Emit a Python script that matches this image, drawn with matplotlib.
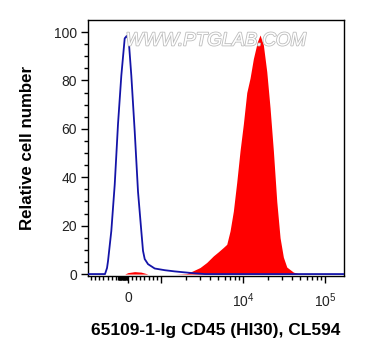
import numpy as np
import matplotlib
matplotlib.use('Agg')
import matplotlib.pyplot as plt
import matplotlib.patheffects as pe
from matplotlib.ticker import FixedLocator, FixedFormatter

plt.rcParams['font.family'] = ['Liberation Sans', 'DejaVu Sans']
plt.rcParams['mathtext.fontset'] = 'custom'
plt.rcParams['mathtext.rm'] = 'Liberation Sans'
plt.rcParams['mathtext.it'] = 'Liberation Sans'

# isotype control (blue outline)
blue_x = [-1224, -701, -640, -610, -509, -405, -305, -204, -101, -40, 21, 101,
          204, 305, 405, 457, 509, 610, 814, 1116, 1477, 1956, 2612, 3459, 170000]
blue_y = [0, 0, 2.5, 5.3, 17.8, 37, 62, 82, 97.4, 98.4, 96.7, 82,
          59, 34, 17.8, 9.6, 6.2, 4.1, 2.3, 1.6, 1.1, 0.7, 0.3, 0, 0]

# CD45 stained sample (red fill)
red_x = [-1224, -100, 0, 200, 400, 610, 1500, 2070, 2491, 3006, 3628, 4367, 5025,
         5783, 6362, 6980, 7659, 8425, 9245, 10140, 11160, 12240, 13430,
         15020, 16210, 17780, 19560, 21460, 23550, 25910, 28430, 31180,
         34310, 41290, 49840, 170000]
red_y = [0, 0, 0.6, 1.0, 0.8, 0, 0, 0.2, 1.4, 2.7, 4.8, 7.5, 9.2,
         11, 12.3, 17.8, 26, 38, 51, 62, 75, 81, 89,
         96, 98.8, 94.7, 83.7, 68.7, 51, 30, 15, 7,
         2.9, 0.8, 0, 0]

major_x = [0, 1000, 10000, 100000]
major_labels = ['0', '', '$10^4$', '$10^5$']

fig = plt.figure(figsize=(3.66, 3.6), dpi=100)
ax = fig.add_axes([88/366, 1 - 276/360, 256/366, 256/360])

ax.set_xscale('symlog', base=10, linthresh=1000, linscale=0.36)
ax.fill_between(red_x, red_y, 0, color='#ff0000', linewidth=0, zorder=2)
ax.plot(blue_x, blue_y, color='#1414a8', linewidth=1.3, zorder=3)

ax.set_xlim(-1224, 171000)
ax.set_ylim(-0.8, 105)

# ticks
minor_x = [-125 * k for k in range(1, 10)] + list(range(-300, 0, 20)) + \
          [125 * k for k in range(1, 8)] + \
          [m * 1000 for m in range(2, 10)] + [m * 10000 for m in range(2, 10)]
ax.xaxis.set_major_locator(FixedLocator(major_x))
ax.xaxis.set_major_formatter(FixedFormatter(major_labels))
ax.xaxis.set_minor_locator(FixedLocator(minor_x))
ax.yaxis.set_major_locator(FixedLocator([0, 20, 40, 60, 80, 100]))
ax.yaxis.set_minor_locator(FixedLocator(np.arange(5, 105, 5)))

ax.tick_params(axis='both', which='major', length=5, width=1, labelsize=10,
               colors='black', labelcolor='#222222')
ax.tick_params(axis='both', which='minor', length=3, width=1)
ax.tick_params(axis='x', which='major', pad=6)
ax.tick_params(axis='y', which='major', pad=3)

for sp in ax.spines.values():
    sp.set_linewidth(1)

ax.set_xlabel('65109-1-Ig CD45 (HI30), CL594', fontsize=12.5, fontweight='bold', va='center')
ax.xaxis.set_label_coords(0.5, (276 - 331) / 256)
ax.set_ylabel('Relative cell number', fontsize=12.2, fontweight='bold', va='center')
ax.yaxis.set_label_coords((28 - 88) / 256, 0.5)

# watermark
ax.text(0.5, 0.918, 'WWW.PTGLAB.COM', transform=ax.transAxes, ha='center', va='center',
        fontsize=13.5, style='italic', color='white', zorder=5,
        path_effects=[pe.Stroke(linewidth=1.2, foreground='#bdbdbd'), pe.Normal()])

fig.savefig('out.png', dpi=100)
